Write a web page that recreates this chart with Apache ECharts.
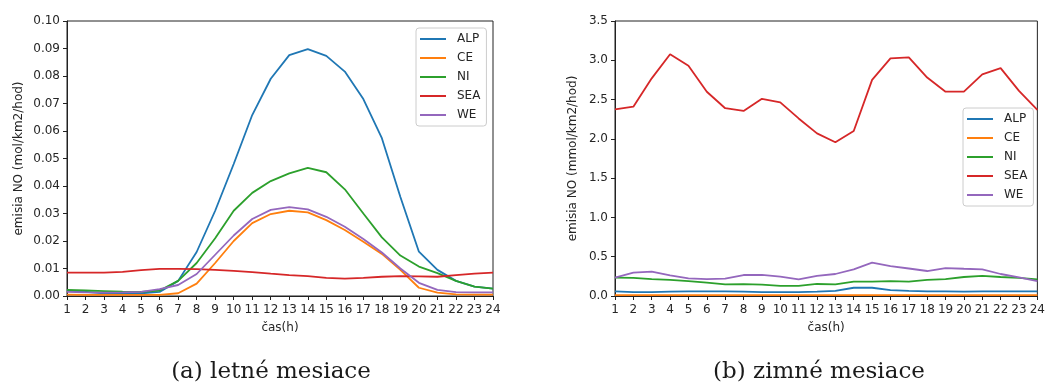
<!DOCTYPE html>
<html>
<head>
<meta charset="utf-8">
<script src="https://cdn.jsdelivr.net/npm/echarts@6/dist/echarts.min.js"></script>
<style>
  html, body { margin: 0; padding: 0; background: #fff; }
  #main { width: 1048px; height: 383px; }
</style>
</head>
<body>
<div id="main"></div>
<script>
// hodiny dna
const hours = [1, 2, 3, 4, 5, 6, 7, 8, 9, 10, 11, 12, 13, 14, 15, 16, 17, 18, 19, 20, 21, 22, 23, 24];
const regions = ['ALP', 'CE', 'NI', 'SEA', 'WE'];

// (a) letne mesiace, mol/km2/hod
const summerALP = [0.002, 0.0015, 0.001, 0.001, 0.001, 0.0015, 0.0055, 0.016, 0.031, 0.048, 0.0658, 0.079, 0.0876, 0.0898, 0.0873, 0.0816, 0.0716, 0.0574, 0.036, 0.0161, 0.0095, 0.0055, 0.0034, 0.0027];
const summerCE = [0.0005, 0.0004, 0.0004, 0.0004, 0.0004, 0.0004, 0.001, 0.0045, 0.012, 0.0200, 0.0265, 0.0298, 0.031, 0.0304, 0.0276, 0.024, 0.0197, 0.0153, 0.0095, 0.003, 0.0012, 0.0006, 0.0005, 0.0005];
const summerNI = [0.0022, 0.002, 0.0018, 0.0016, 0.0015, 0.002, 0.0055, 0.012, 0.021, 0.031, 0.0375, 0.0418, 0.0446, 0.0466, 0.045, 0.0388, 0.030, 0.0213, 0.0147, 0.0107, 0.0083, 0.0055, 0.0034, 0.0027];
const summerSEA = [0.0085, 0.0085, 0.0085, 0.0088, 0.0094, 0.0099, 0.0099, 0.0098, 0.0095, 0.0091, 0.0087, 0.0081, 0.0076, 0.0072, 0.0066, 0.0063, 0.0066, 0.0070, 0.0072, 0.0071, 0.0070, 0.0076, 0.0081, 0.0085];
const summerWE = [0.0015, 0.0013, 0.0012, 0.0013, 0.0015, 0.0025, 0.004, 0.008, 0.015, 0.022, 0.028, 0.0313, 0.0323, 0.0315, 0.0288, 0.0252, 0.0207, 0.0158, 0.010, 0.0048, 0.0022, 0.0014, 0.0013, 0.0013];

// (b) zimne mesiace, mmol/km2/hod
const winterALP = [0.06, 0.05, 0.05, 0.055, 0.06, 0.06, 0.06, 0.055, 0.05, 0.05, 0.05, 0.055, 0.065, 0.105, 0.105, 0.075, 0.065, 0.06, 0.06, 0.055, 0.06, 0.06, 0.06, 0.06];
const winterCE = [0.01, 0.01, 0.01, 0.01, 0.01, 0.01, 0.01, 0.01, 0.01, 0.01, 0.01, 0.01, 0.01, 0.01, 0.01, 0.01, 0.01, 0.01, 0.01, 0.01, 0.01, 0.01, 0.01, 0.01];
const winterNI = [0.233, 0.23, 0.216, 0.204, 0.19, 0.17, 0.148, 0.15, 0.144, 0.13, 0.13, 0.153, 0.148, 0.182, 0.182, 0.19, 0.182, 0.204, 0.216, 0.242, 0.255, 0.242, 0.23, 0.212];
const winterSEA = [2.376, 2.41, 2.77, 3.076, 2.93, 2.60, 2.39, 2.355, 2.51, 2.465, 2.26, 2.07, 1.956, 2.10, 2.75, 3.025, 3.038, 2.78, 2.60, 2.60, 2.82, 2.90, 2.61, 2.37];
const winterWE = [0.233, 0.297, 0.31, 0.263, 0.225, 0.216, 0.22, 0.267, 0.27, 0.246, 0.212, 0.255, 0.28, 0.34, 0.424, 0.38, 0.35, 0.318, 0.356, 0.347, 0.34, 0.28, 0.237, 0.19];

const summer = [summerALP, summerCE, summerNI, summerSEA, summerWE];
const winter = [winterALP, winterCE, winterNI, winterSEA, winterWE];
const colors = ['#1f77b4', '#ff7f0e', '#2ca02c', '#d62728', '#9467bd'];

const font = 'DejaVu Sans';
const ink = '#262626';

const makeX = (gridIndex) => ({
  type: 'value',
  gridIndex: gridIndex,
  min: 1,
  max: 24,
  interval: 1,
  name: 'čas(h)',
  nameLocation: 'middle',
  nameGap: 26,
  nameTextStyle: { fontFamily: font, fontSize: 12, color: ink },
  axisLine: { onZero: false, lineStyle: { color: '#222', width: 1 } },
  axisTick: { length: 4, lineStyle: { color: '#222' } },
  axisLabel: { fontFamily: font, fontSize: 12, color: ink, margin: 8 },
  splitLine: { show: false },
});

const makeY = (gridIndex, max, interval, digits, name, gap) => ({
  type: 'value',
  gridIndex: gridIndex,
  min: 0,
  max: max,
  interval: interval,
  name: name,
  nameLocation: 'middle',
  nameGap: gap,
  nameTextStyle: { fontFamily: font, fontSize: 12, color: ink },
  axisLine: { show: true, lineStyle: { color: '#222', width: 1 } },
  axisTick: { show: true, length: 4, lineStyle: { color: '#222' } },
  axisLabel: {
    fontFamily: font,
    fontSize: 12,
    color: ink,
    margin: 7,
    formatter: (v) => v.toFixed(digits),
  },
  splitLine: { show: false },
});

const makeLegend = (left, top) => ({
  orient: 'vertical',
  left: left,
  top: top,
  data: regions,
  icon: 'rect',
  itemWidth: 26,
  itemHeight: 2,
  itemGap: 5,
  padding: [4, 6, 4, 4],
  borderColor: '#cccccc',
  borderWidth: 1,
  borderRadius: 3,
  backgroundColor: 'rgba(255,255,255,0.8)',
  textStyle: { fontFamily: font, fontSize: 12, color: ink, lineHeight: 14, padding: [0, 0, 0, 6] },
});

const makeSeries = (sets, idx) =>
  sets.map((vals, i) => ({
    name: regions[i],
    type: 'line',
    xAxisIndex: idx,
    yAxisIndex: idx,
    data: hours.map((h, k) => [h, vals[k]]),
    symbol: 'none',
    color: colors[i],
    lineStyle: { width: 1.8 },
    z: 2 + i,
  }));

const option = {
  animation: false,
  backgroundColor: '#ffffff',
  grid: [
    { left: 67, top: 21, width: 426, height: 275, show: true, borderColor: '#222', borderWidth: 1, backgroundColor: 'transparent' },
    { left: 615, top: 21, width: 426, height: 275, show: true, borderColor: '#222', borderWidth: 1, backgroundColor: 'transparent' },
  ],
  xAxis: [makeX(0), makeX(1)],
  yAxis: [
    makeY(0, 0.1, 0.01, 2, 'emisia NO (mol/km2/hod)', 42),
    makeY(1, 3.5, 0.5, 1, 'emisia NO (mmol/km2/hod)', 36),
  ],
  legend: [makeLegend(416, 28), makeLegend(963, 108)],
  series: makeSeries(summer, 0).concat(makeSeries(winter, 1)),
  // popisky pod grafmi
  graphic: [
    { type: 'text', x: 271, y: 372, style: { text: '(a) letné mesiace', fill: '#1a1a1a', font: '23px "DejaVu Serif"', align: 'center', verticalAlign: 'middle' } },
    { type: 'text', x: 819, y: 372, style: { text: '(b) zimné mesiace', fill: '#1a1a1a', font: '23px "DejaVu Serif"', align: 'center', verticalAlign: 'middle' } },
  ],
};

const chart = echarts.init(document.getElementById('main'), null, { renderer: 'canvas' });
chart.setOption(option);
</script>
</body>
</html>
